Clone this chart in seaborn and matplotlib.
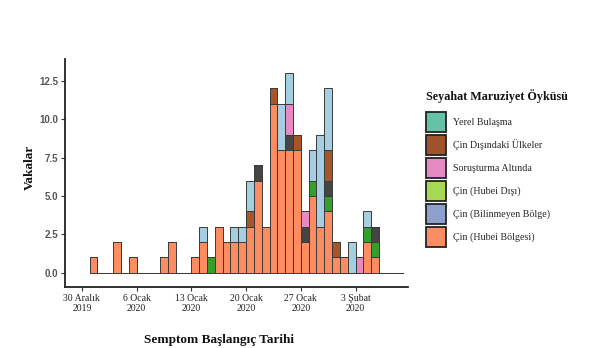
import numpy as np
import pandas as pd
import matplotlib
matplotlib.use("Agg")
import matplotlib.pyplot as plt
import seaborn as sns
from matplotlib.patches import Patch
from matplotlib.font_manager import FontProperties

# ---- data: days since 30 Dec 2019 (bin [d, d+1)) ----
days = list(range(1, 41))
categories = ["Yerel Bulaşma", "Çin Dışındaki Ülkeler", "Soruşturma Altında",
              "Çin (Hubei Dışı)", "Çin (Bilinmeyen Bölge)", "Çin (Hubei Bölgesi)"]
#                 1  2  3  4  5  6  7  8  9 10 11 12 13 14 15 16 17 18 19 20 21 22 23 24 25 26 27 28 29 30 31 32 33 34 35 36 37 38 39 40
hubei_bolgesi = [1, 0, 0, 2, 0, 1, 0, 0, 0, 1, 2, 0, 0, 1, 2, 0, 3, 2, 2, 2, 3, 6, 3, 11, 8, 8, 8, 2, 5, 3, 4, 1, 1, 0, 0, 2, 1, 0, 0, 0]
bilinmeyen    = [0, 0, 0, 0, 0, 0, 0, 0, 0, 0, 0, 0, 0, 0, 0, 1, 0, 0, 0, 0, 0, 0, 0, 0, 0, 0, 0, 0, 1, 0, 1, 0, 0, 0, 0, 1, 1, 0, 0, 0]
hubei_disi    = [0, 0, 0, 0, 0, 0, 0, 0, 0, 0, 0, 0, 0, 0, 0, 0, 0, 0, 0, 0, 0, 1, 0, 0, 0, 1, 0, 1, 0, 0, 1, 0, 0, 0, 0, 0, 1, 0, 0, 0]
sorusturma    = [0, 0, 0, 0, 0, 0, 0, 0, 0, 0, 0, 0, 0, 0, 0, 0, 0, 0, 0, 0, 0, 0, 0, 0, 0, 2, 0, 1, 0, 0, 0, 0, 0, 0, 1, 0, 0, 0, 0, 0]
cin_disi      = [0, 0, 0, 0, 0, 0, 0, 0, 0, 0, 0, 0, 0, 0, 0, 0, 0, 0, 0, 0, 1, 0, 0, 1, 0, 0, 1, 0, 0, 0, 2, 1, 0, 0, 0, 0, 0, 0, 0, 0]
yerel         = [0, 0, 0, 0, 0, 0, 0, 0, 0, 0, 0, 0, 0, 0, 1, 0, 0, 0, 1, 1, 2, 0, 0, 0, 3, 2, 0, 0, 2, 6, 4, 0, 0, 2, 0, 1, 0, 0, 0, 0]

tick_days = [0, 7, 14, 21, 28, 35]
tick_labels = ["30 Aralık\n2019", "6 Ocak\n2020", "13 Ocak\n2020",
               "20 Ocak\n2020", "27 Ocak\n2020", "3 Şubat\n2020"]
y_ticks = [0.0, 2.5, 5.0, 7.5, 10.0, 12.5]
legend_title = "Seyahat Maruziyet Öyküsü"

bar_colors = ["#a6cee3", "#a65628", "#e78ac3", "#454545", "#33a02c", "#fd8c61"]
legend_colors = ["#66c2a5", "#a0522d", "#e78ac3", "#a6d854", "#8da0cb", "#fc8d62"]

series = [yerel, cin_disi, sorusturma, hubei_disi, bilinmeyen, hubei_bolgesi]
rows = []
for cat, vals in zip(categories, series):
    for d, v in zip(days, vals):
        rows.append({"day": d + 0.5, "cat": cat, "n": v})
df = pd.DataFrame(rows)

sns.set_theme(style="white")
serif = "Liberation Serif"

fig = plt.figure(figsize=(6.04, 3.48), dpi=100)
ax = fig.add_axes([65 / 604, 1 - 287 / 348, 343 / 604, 228 / 348])

sns.histplot(data=df, x="day", weights="n", hue="cat", hue_order=categories,
             multiple="stack", binwidth=1, binrange=(1, 41), palette=bar_colors,
             edgecolor="#3a3a3a", linewidth=0.7, alpha=1.0, legend=False, ax=ax)

ax.set_xlim(-2.15, 41.7)
ax.set_ylim(-0.93, 13.92)
ax.set_xticks(tick_days)
ax.set_xticklabels(tick_labels, fontfamily=serif, fontsize=7, color="#222222",
                   linespacing=1.15)
ax.set_yticks(y_ticks)
ax.set_yticklabels([f"{t:.1f}" for t in y_ticks], fontfamily="Liberation Sans",
                   fontweight="bold", fontsize=7, color="#555555")
ax.tick_params(axis="both", which="both", length=3, width=0.8, color="#333333",
               left=True, bottom=True, pad=2)

for s in ["top", "right"]:
    ax.spines[s].set_visible(False)
for s in ["left", "bottom"]:
    ax.spines[s].set_color("#222222")
    ax.spines[s].set_linewidth(1.3)

ax.set_xlabel("Semptom Başlangıç Tarihi", fontfamily=serif, fontweight="bold",
              fontsize=9.5, color="#111111")
ax.xaxis.set_label_coords(0.449, -0.205)
ax.set_ylabel("Vakalar", fontfamily=serif, fontweight="bold", fontsize=9.5,
              color="#111111")
ax.yaxis.set_label_coords(-0.085, 0.524)

fig.text(426 / 604, 1 - 96 / 348, legend_title, ha="left", va="center",
         fontfamily=serif, fontweight="bold", fontsize=8.7, color="#111111")

handles = [Patch(facecolor=c, edgecolor="#222222", linewidth=1.3) for c in legend_colors]
fig.legend(handles, categories, loc="upper left",
           bbox_to_anchor=(426 / 604, 1 - 111.5 / 348), frameon=False,
           prop=FontProperties(family=serif, size=7.2),
           handlelength=1.95, handleheight=2.75, labelspacing=0.27,
           handletextpad=0.75, borderpad=0, borderaxespad=0)

fig.savefig("out.png", dpi=100, facecolor="white")
